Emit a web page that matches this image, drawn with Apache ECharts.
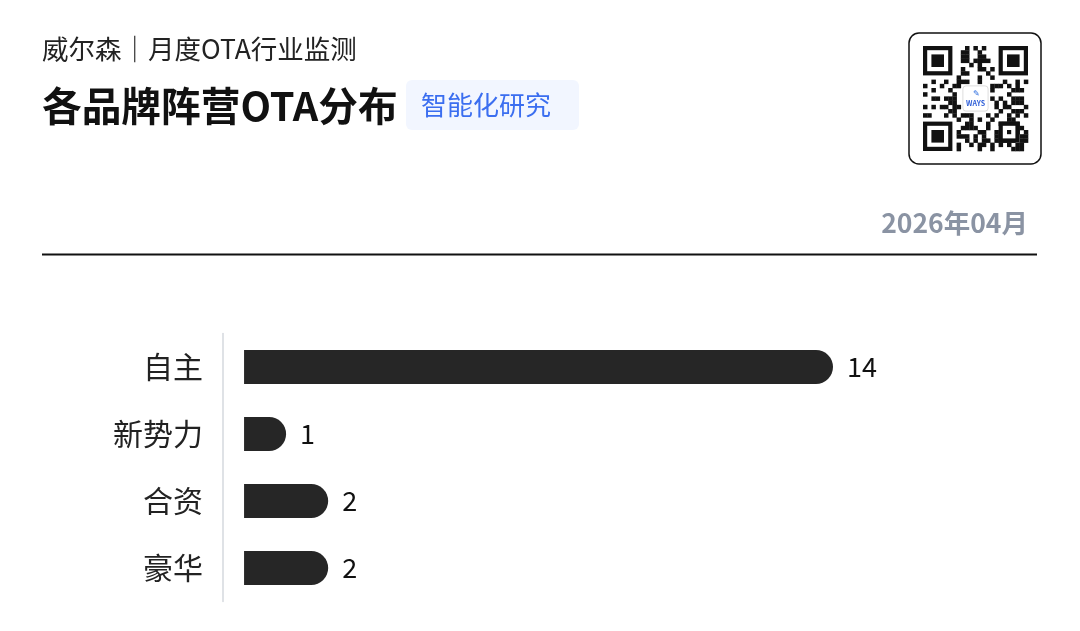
<!DOCTYPE html>
<html>
<head>
<meta charset="utf-8">
<script src="https://cdn.jsdelivr.net/npm/echarts@6/dist/echarts.min.js"></script>
<style>
html,body{margin:0;padding:0;background:#fff;}
#chart{width:1080px;height:631px;}
</style>
</head>
<body>
<div id="chart"></div>
<script>
const categories = ['自主', '新势力', '合资', '豪华'];
const values = [14, 1, 2, 2];

const FONT = '"Noto Sans CJK SC", "Noto Sans", sans-serif';

// decorative QR-like pattern (not data)
function qrGraphics() {
  const els = [];
  const x0 = 923, y0 = 46, n = 25, m = 4.2;
  function finder(cx, cy) {
    els.push({type:'rect', shape:{x:x0+cx*m, y:y0+cy*m, width:7*m, height:7*m}, style:{fill:'#111'}});
    els.push({type:'rect', shape:{x:x0+(cx+1)*m, y:y0+(cy+1)*m, width:5*m, height:5*m}, style:{fill:'#fff'}});
    els.push({type:'rect', shape:{x:x0+(cx+2)*m, y:y0+(cy+2)*m, width:3*m, height:3*m}, style:{fill:'#111'}});
  }
  function inFinder(i, j) {
    return (i < 8 && j < 8) || (i >= n-8 && j < 8) || (i < 8 && j >= n-8);
  }
  for (let i = 0; i < n; i++) {
    for (let j = 0; j < n; j++) {
      if (inFinder(i, j)) continue;
      if (i >= 9 && i <= 15 && j >= 9 && j <= 15) continue;
      const h = ((i * 73856093) ^ (j * 19349663) ^ (i * j * 83492791)) >>> 0;
      if (h % 7 < 3) {
        els.push({type:'rect', shape:{x:x0+i*m, y:y0+j*m, width:m+0.3, height:m+0.3}, style:{fill:'#111'}});
      }
    }
  }
  finder(0, 0); finder(n-7, 0); finder(0, n-7);
  els.push({type:'rect', shape:{x:x0+18*m, y:y0+18*m, width:5*m, height:5*m}, style:{fill:'#111'}});
  els.push({type:'rect', shape:{x:x0+19*m, y:y0+19*m, width:3*m, height:3*m}, style:{fill:'#fff'}});
  els.push({type:'rect', shape:{x:x0+20*m, y:y0+20*m, width:1*m, height:1*m}, style:{fill:'#111'}});
  els.push({type:'rect', shape:{x:x0+9.5*m, y:y0+9.5*m, width:6*m, height:6*m, r:3}, style:{fill:'#fff', stroke:'#ddd', lineWidth:1}});
  els.push({type:'text', x:x0+12.5*m, y:y0+13.6*m, style:{text:'WAYS', fill:'#2f5fd8', font:'bold 7px ' + FONT, align:'center', verticalAlign:'middle'}});
  els.push({type:'text', x:x0+12.8*m, y:y0+11.2*m, style:{text:'✎', fill:'#2f6fe0', font:'8px ' + FONT, align:'center', verticalAlign:'middle'}});
  return els;
}

const chart = echarts.init(document.getElementById('chart'), null, {renderer:'canvas'});
const option = {
  backgroundColor: '#fff',
  animation: false,
  textStyle: {fontFamily: FONT},
  grid: {left: 223, right: 247, top: 333.5, bottom: 29.5, containLabel: false},
  xAxis: {
    type: 'value', min: -0.5, max: 14,
    show: false
  },
  yAxis: {
    type: 'category', data: categories, inverse: true,
    axisLine: {show: true, onZero: false, lineStyle: {color: '#d5d8de', width: 1.5}},
    axisTick: {show: false},
    axisLabel: {color: '#222', fontSize: 30, margin: 20, fontFamily: FONT}
  },
  series: [{
    type: 'bar', data: values, barWidth: 34,
    itemStyle: {color: '#262626', borderRadius: [0, 17, 17, 0]},
    label: {show: true, position: 'right', distance: 14, color: '#111', fontSize: 27, fontFamily: FONT}
  }],
  graphic: [
    {type:'text', x: 42, y: 49, style:{text:'威尔森｜月度OTA行业监测', fill:'#222', font:'26.5px ' + FONT, verticalAlign:'middle'}},
    {type:'text', x: 42, y: 106, style:{text:'各品牌阵营OTA分布', fill:'#111', font:'bold 39.7px ' + FONT, verticalAlign:'middle'}},
    {type:'rect', shape:{x:406, y:80, width:173, height:50, r:6}, style:{fill:'#f2f6ff'}},
    {type:'text', x: 486, y: 105, style:{text:'智能化研究', fill:'#3b6ef0', font:'26px ' + FONT, align:'center', verticalAlign:'middle'}},
    {type:'rect', shape:{x:909, y:33, width:132, height:131, r:10}, style:{fill:'#fff', stroke:'#111', lineWidth:1.5}},
    ...qrGraphics(),
    {type:'text', x: 1028, y: 223, style:{text:'2026年04月', fill:'#8a93a3', font:'bold 26.5px ' + FONT, align:'right', verticalAlign:'middle'}},
    {type:'line', shape:{x1:42, y1:254.5, x2:1037, y2:254.5}, style:{stroke:'#111', lineWidth:2}}
  ]
};
chart.setOption(option);
</script>
</body>
</html>
